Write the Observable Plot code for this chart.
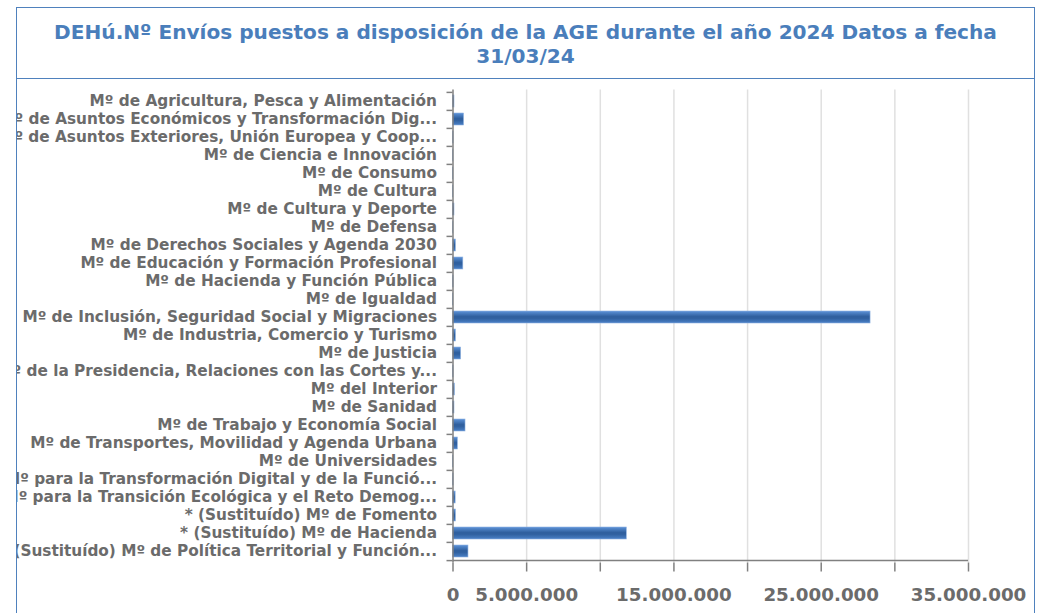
<!DOCTYPE html>
<html><head><meta charset="utf-8">
<script src="https://cdn.jsdelivr.net/npm/d3@7"></script>
<script src="https://cdn.jsdelivr.net/npm/@observablehq/plot@0.6"></script>
<style>
body{margin:0;width:1038px;height:613px;overflow:hidden;background:#fff;font-family:"DejaVu Sans",sans-serif;}
#frame{position:absolute;left:16px;top:7px;width:1017px;height:660px;border:1.5px solid #4f81bd;overflow:hidden;background:#fff;}
#title{height:70px;border-bottom:1.5px solid #4f81bd;display:flex;align-items:center;justify-content:center;text-align:center;color:#4a7ebb;font-weight:bold;font-size:20.1px;line-height:24px;white-space:nowrap;}
#title > div{padding-top:2px;}
#chart svg{display:block;}
</style></head><body>
<div id="frame">
  <div id="title"><div>DEHú.Nº Envíos puestos a disposición de la AGE durante el año 2024 Datos a fecha<br>31/03/24</div></div>
  <div id="chart"></div>
</div>
<script>
const categories = [
  "Mº de Agricultura, Pesca y Alimentación",
  "Mº de Asuntos Económicos y Transformación Dig...",
  "Mº de Asuntos Exteriores, Unión Europea y Coop...",
  "Mº de Ciencia e Innovación",
  "Mº de Consumo",
  "Mº de Cultura",
  "Mº de Cultura y Deporte",
  "Mº de Defensa",
  "Mº de Derechos Sociales y Agenda 2030",
  "Mº de Educación y Formación Profesional",
  "Mº de Hacienda y Función Pública",
  "Mº de Igualdad",
  "Mº de Inclusión, Seguridad Social y Migraciones",
  "Mº de Industria, Comercio y Turismo",
  "Mº de Justicia",
  "Mº de la Presidencia, Relaciones con las Cortes y...",
  "Mº del Interior",
  "Mº de Sanidad",
  "Mº de Trabajo y Economía Social",
  "Mº de Transportes, Movilidad y Agenda Urbana",
  "Mº de Universidades",
  "Mº para la Transformación Digital y de la Funció...",
  "Mº para la Transición Ecológica y el Reto Demog...",
  "* (Sustituído) Mº de Fomento",
  "* (Sustituído) Mº de Hacienda",
  "* (Sustituído) Mº de Política Territorial y Función..."
];
const values = [
  100000, 750000, 40000, 30000, 20000, 20000, 100000, 30000, 200000, 700000,
  40000, 20000, 28350000, 200000, 550000, 40000, 130000, 100000, 850000, 330000,
  20000, 40000, 180000, 200000, 11800000, 1050000
];
const xTicks = [0, 5000000, 10000000, 15000000, 20000000, 25000000, 30000000, 35000000];
const xLabelled = [0, 5000000, 15000000, 25000000, 35000000];

const data = categories.map((name, i) => ({name, value: values[i]}));
const fmtNum = d3.formatLocale({decimal: ",", thousands: ".", grouping: [3], currency: ["", ""]}).format(",d");

// svg starts at page y ≈ 80, x ≈ 17.5
const W = 1016, H = 560, mt = 10.5, mb = 76.5, ml = 435.5, mr = 65;
const step = (H - mt - mb) / categories.length;

const plot = Plot.plot({
  width: W, height: H,
  marginLeft: ml, marginRight: mr, marginTop: mt, marginBottom: mb,
  style: {fontFamily: "DejaVu Sans", fontWeight: "bold", background: "transparent"},
  x: {domain: [0, 35000000], label: null},
  y: {domain: categories, paddingInner: 0, paddingOuter: 0, label: null},
  marks: [
    Plot.gridX(xTicks.filter(d => d > 0), {stroke: "#e0e0e0", strokeOpacity: 1, strokeWidth: 1.5}),
    Plot.barX(data, {x: "value", y: "name", insetTop: 3, insetBottom: 3, fill: "#3a6cad", stroke: "#8fb2e0", strokeWidth: 0.6}),
    Plot.ruleX([0], {stroke: "#808080", strokeWidth: 1.5}),
    Plot.ruleY([categories[categories.length - 1]], {dy: step / 2, stroke: "#808080", strokeWidth: 1.5}),
    Plot.axisY({tickSize: 6, text: null, label: null, dy: -step / 2, stroke: "#808080", strokeWidth: 1.5}),
    Plot.axisY([categories[categories.length - 1]], {tickSize: 6, text: null, label: null, dy: step / 2, stroke: "#808080", strokeWidth: 1.5}),
    Plot.axisY({tickSize: 0, tickPadding: 16, label: null, fontSize: 15.3, fontWeight: "bold", fill: "#6b6b6b"}),
    Plot.axisX(xTicks, {tickSize: 9, text: null, label: null, stroke: "#808080", strokeWidth: 1.5}),
    Plot.axisX(xLabelled, {tickSize: 0, tickPadding: 25, label: null, fontSize: 18.3, fontWeight: "bold", fill: "#6b6b6b", tickFormat: fmtNum})
  ]
});

const ns = "http://www.w3.org/2000/svg";
const defs = document.createElementNS(ns, "defs");
defs.innerHTML = '<linearGradient id="barGrad" x1="0" y1="0" x2="0" y2="1">' +
  '<stop offset="0" stop-color="#5d93d8"/>' +
  '<stop offset="0.45" stop-color="#30609f"/>' +
  '<stop offset="0.6" stop-color="#30609f"/>' +
  '<stop offset="1" stop-color="#4a80c6"/></linearGradient>';
plot.insertBefore(defs, plot.firstChild);
const barG = plot.querySelector('g[aria-label="bar"]');
if (barG) {
  barG.setAttribute("fill", "url(#barGrad)");
  barG.querySelectorAll("rect").forEach(r => r.setAttribute("fill", "url(#barGrad)"));
}
document.getElementById("chart").appendChild(plot);
</script>
</body></html>
